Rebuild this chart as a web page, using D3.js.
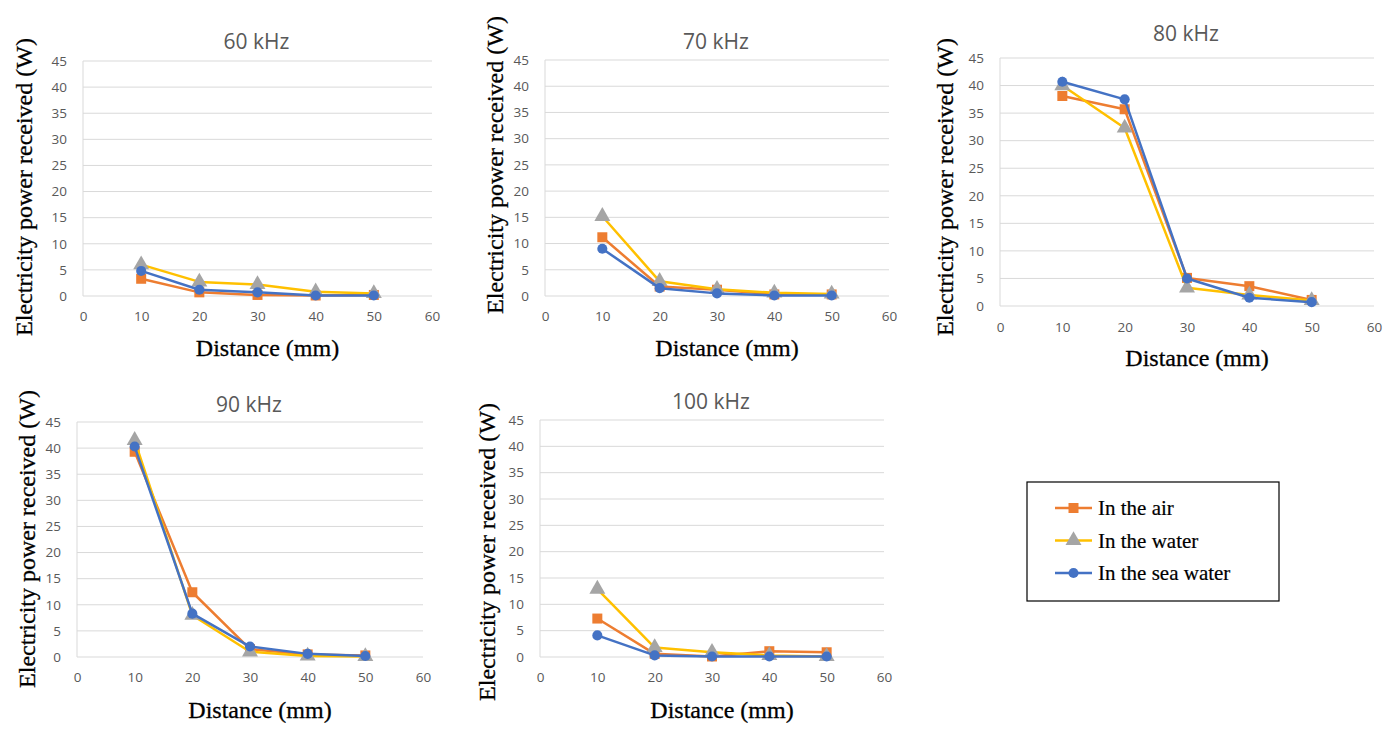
<!DOCTYPE html>
<html>
<head>
<meta charset="utf-8">
<script src="https://cdn.jsdelivr.net/npm/d3@7"></script>
<style>
body { margin: 0; background: #fff; }
svg { display: block; }
</style>
</head>
<body>
<svg id="chart" width="1397" height="729"></svg>
<script>
// distances (mm) measured at each frequency
var distances = [10, 20, 30, 40, 50];
var frequencies = ["60 kHz", "70 kHz", "80 kHz", "90 kHz", "100 kHz"];
var seriesNames = ["In the air", "In the water", "In the sea water"];

// received power (W), one row per frequency
var airData = [
	[3.3, 0.7, 0.2, 0.1, 0.2],
	[11.2, 1.8, 1.2, 0.3, 0.3],
	[38.1, 35.7, 5.1, 3.6, 1.1],
	[39.3, 12.4, 1.5, 0.5, 0.3],
	[7.3, 0.6, 0.1, 1.1, 0.9]
];
var waterData = [
	[6.0, 2.7, 2.2, 0.8, 0.5],
	[15.2, 2.8, 1.3, 0.6, 0.4],
	[40.0, 32.3, 3.3, 2.0, 1.0],
	[41.5, 8.0, 1.0, 0.2, 0.1],
	[12.9, 1.8, 0.9, 0.3, 0.1]
];
var seaData = [
	[4.8, 1.2, 0.7, 0.1, 0.1],
	[9.0, 1.5, 0.5, 0.1, 0.1],
	[40.7, 37.5, 5.0, 1.5, 0.7],
	[40.3, 8.3, 2.0, 0.6, 0.2],
	[4.1, 0.3, 0.1, 0.1, 0.1]
];
var xTicks = [0, 10, 20, 30, 40, 50, 60];
var yTicks = [0, 5, 10, 15, 20, 25, 30, 35, 40, 45];

var lineColors = ["#ED7D31", "#FFC000", "#4472C4"];
var markerColors = ["#ED7D31", "#A5A5A5", "#4472C4"];
var markerTypes = [d3.symbolSquare, d3.symbolTriangle, d3.symbolCircle];
var markerSizes = [100, 110, 80];

// plot rectangles for each panel
var panels = [
	{left: 83, right: 432, top: 61, bottom: 296, titleY: 42, yTitleX: 24, yTitleY: 187, xLabY: 320, xTitleY: 356},
	{left: 545, right: 889, top: 60, bottom: 296, titleY: 42, yTitleX: 495, yTitleY: 165, xLabY: 320, xTitleY: 356},
	{left: 1000, right: 1374, top: 58, bottom: 306, titleY: 34, yTitleX: 945, yTitleY: 187, xLabY: 331, xTitleY: 366},
	{left: 77, right: 423, top: 422, bottom: 657, titleY: 405, yTitleX: 27, yTitleY: 539, xLabY: 681, xTitleY: 718},
	{left: 540, right: 884, top: 420, bottom: 657, titleY: 402, yTitleX: 487, yTitleY: 552, xLabY: 681, xTitleY: 718}
];

var svg = d3.select("#chart");

function drawPanel(p, idx)
{
	var x = d3.scaleLinear().domain([0, 60]).range([p.left, p.right]);
	var y = d3.scaleLinear().domain([0, 45]).range([p.bottom, p.top]);
	var g = svg.append("g").attr("class", "panel");

	// grid
	g.selectAll("line.grid")
		.data(yTicks).enter()
		.append("line")
		.attr("class", "grid")
		.attr("x1", p.left).attr("x2", p.right)
		.attr("y1", function(d){ return y(d); })
		.attr("y2", function(d){ return y(d); })
		.attr("stroke", "#D9D9D9")
		.attr("stroke-width", 1);
	g.append("line")
		.attr("x1", p.left).attr("x2", p.left)
		.attr("y1", p.top).attr("y2", p.bottom)
		.attr("stroke", "#D9D9D9");

	// y axis labels
	var yAxis = d3.axisLeft(y).tickValues(yTicks).tickSize(0).tickPadding(16);
	var ya = g.append("g").attr("transform", "translate(" + p.left + ",0)").call(yAxis);
	ya.select(".domain").remove();
	ya.selectAll("text")
		.attr("fill", "#595959")
		.style("font-family", "'Open Sans', sans-serif")
		.style("font-size", "13.5px");

	// x axis labels
	var xAxis = d3.axisBottom(x).tickValues(xTicks).tickSize(0).tickPadding(0);
	var xa = g.append("g").attr("transform", "translate(0," + (p.xLabY - 9) + ")").call(xAxis);
	xa.select(".domain").remove();
	xa.selectAll("text")
		.attr("fill", "#595959")
		.style("font-family", "'Open Sans', sans-serif")
		.style("font-size", "13.5px");

	// title
	g.append("text")
		.attr("x", (p.left + p.right) / 2 - 1)
		.attr("y", p.titleY + 7)
		.attr("text-anchor", "middle")
		.attr("fill", "#595959")
		.style("font-family", "'Open Sans', sans-serif")
		.style("font-size", "21px")
		.text(frequencies[idx]);

	g.append("text")
		.attr("x", (p.left + p.right) / 2 + 10)
		.attr("y", p.xTitleY)
		.attr("text-anchor", "middle")
		.attr("fill", "#000")
		.attr("stroke", "#000")
		.attr("stroke-width", 0.3)
		.style("font-family", "'Liberation Serif', serif")
		.style("font-size", "24px")
		.text("Distance (mm)");

	g.append("text")
		.attr("transform", "translate(" + (p.yTitleX + 8) + "," + p.yTitleY + ") rotate(-90)")
		.attr("text-anchor", "middle")
		.attr("fill", "#000")
		.attr("stroke", "#000")
		.attr("stroke-width", 0.3)
		.style("font-family", "'Liberation Serif', serif")
		.style("font-size", "24px")
		.text("Electricity power received (W)");

	var allSeries = [airData[idx], waterData[idx], seaData[idx]];
	var line = d3.line()
		.x(function(d, i){ return x(distances[i]); })
		.y(function(d){ return y(d); });

	for(var s = 0; s < allSeries.length; s++)
	{
		g.append("path")
			.datum(allSeries[s])
			.attr("fill", "none")
			.attr("stroke", lineColors[s])
			.attr("stroke-width", 2.5)
			.attr("stroke-linejoin", "round")
			.attr("d", line);
		var sym = d3.symbol().type(markerTypes[s]).size(markerSizes[s]);
		g.selectAll("path.m" + s)
			.data(allSeries[s]).enter()
			.append("path")
			.attr("class", "m" + s)
			.attr("d", sym)
			.attr("fill", markerColors[s])
			.attr("transform", function(d, i){ return "translate(" + x(distances[i]) + "," + y(d) + ")"; });
	}
}

for(var i = 0; i < panels.length; i++)
{
	drawPanel(panels[i], i);
}

// legend
var legend = svg.append("g").attr("class", "legend");
legend.append("rect")
	.attr("x", 1027).attr("y", 482)
	.attr("width", 252).attr("height", 119)
	.attr("fill", "#fff")
	.attr("stroke", "#000")
	.attr("stroke-width", 1.2);
var legendRows = legend.selectAll("g.row")
	.data(seriesNames).enter()
	.append("g")
	.attr("class", "row")
	.attr("transform", function(d, i){ return "translate(0," + (508 + i * 32.5) + ")"; });
legendRows.append("line")
	.attr("x1", 1055).attr("x2", 1092)
	.attr("y1", 0).attr("y2", 0)
	.attr("stroke", function(d, i){ return lineColors[i]; })
	.attr("stroke-width", 2.5);
legendRows.append("path")
	.attr("d", function(d, i){ return d3.symbol().type(markerTypes[i]).size(markerSizes[i])(); })
	.attr("fill", function(d, i){ return markerColors[i]; })
	.attr("transform", "translate(1073.5,0)");
legendRows.append("text")
	.attr("x", 1098)
	.attr("y", 7)
	.attr("fill", "#000")
	.attr("stroke", "#000")
	.attr("stroke-width", 0.2)
	.style("font-family", "'Liberation Serif', serif")
	.style("font-size", "21px")
	.text(function(d){ return d; });
</script>
</body>
</html>
